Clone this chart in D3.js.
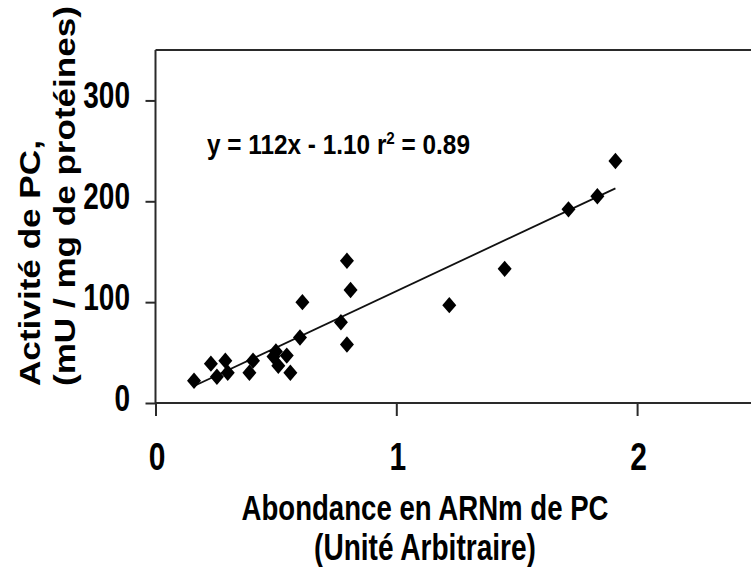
<!DOCTYPE html>
<html><head><meta charset="utf-8">
<script src="https://cdn.jsdelivr.net/npm/d3@7"></script>
<style>
html,body{margin:0;padding:0;background:#fff;}
svg{display:block;}
text{font-family:"Liberation Sans",Arial,sans-serif;fill:#000;}
</style></head>
<body>
<svg id="chart" width="751" height="567"></svg>
<script>
// Data
const abundance = [0.16,0.23,0.255,0.29,0.30,0.39,0.405,0.49,0.50,0.51,0.545,0.56,0.60,0.61,0.77,0.795,0.795,0.81,1.22,1.45,1.715,1.835,1.91];
const activity  = [22,39,26,42,30,30,42,46,51,37,47,30,65,100,80,58,141,112,97,133,192,205,240];
const fitSlope = 112, fitIntercept = -1.10, fitR2 = 0.89;
const fitRange = [0.16, 1.91];
const xTicks = [0,1,2];
const yTicks = [0,100,200,300];
const xTitle = ["Abondance en ARNm de PC","(Unité Arbitraire)"];
const yTitle = ["Activité de PC,","(mU / mg de protéines)"];

const svg = d3.select("#chart");
const x = d3.scaleLinear().domain([0,2.5]).range([155.5,757.5]);
const y = d3.scaleLinear().domain([0,350]).range([403,50]);
const axisColor = "#2a2a2a";
const CAP = 0.716;

// place a text with target width along baseline and target cap height
function fitText(g, str, o){
  const t = g.append("text").attr("x",0).attr("y",0)
    .attr("text-anchor",o.anchor||"start")
    .style("font-size",o.size+"px")
    .style("font-weight",o.weight||"bold")
    .text(str);
  if(o.stroke) t.attr("stroke","#000").attr("stroke-width",o.stroke);
  let sx = o.sx||1, sy = 1;
  if(o.width){ const w = t.node().getComputedTextLength(); if(w>0) sx = o.width/w; }
  if(o.cap){ sy = o.cap/(CAP*o.size); }
  t.attr("transform",`translate(${o.x},${o.y}) rotate(${o.rotate||0}) scale(${sx},${sy})`);
  return t;
}

// frame: top line, left axis, bottom axis
svg.append("line").attr("x1",x(0)).attr("x2",760).attr("y1",y(350)).attr("y2",y(350))
  .attr("stroke",axisColor).attr("stroke-width",2.2);
const yAxis = d3.axisLeft(y).tickValues(yTicks).tickSize(10).tickFormat("");
const xAxis = d3.axisBottom(x).tickValues(xTicks).tickSize(13).tickFormat("");
const gy = svg.append("g").attr("transform",`translate(${x(0)},0)`).call(yAxis);
const gx = svg.append("g").attr("transform",`translate(0,${y(0)})`).call(xAxis);
[gx,gy].forEach(g=>{
  g.select(".domain").attr("stroke",axisColor).attr("stroke-width",2);
  g.selectAll(".tick line").attr("stroke",axisColor).attr("stroke-width",2);
});
gx.select(".domain").attr("d",`M${x(0)},0H760`);
gy.select(".domain").attr("d",`M0,${y(350)}V${y(0)}`);

// tick labels
yTicks.forEach(v=>{
  fitText(svg, d3.format("d")(v), {x:130, y:y(v)+8, size:28, anchor:"end", cap:27});
});
xTicks.forEach(v=>{
  fitText(svg, d3.format("d")(v), {x:x(v)+1.5, y:470, size:30, anchor:"middle", cap:28});
});

// regression line
const line = d3.line().x(d=>x(d)).y(d=>y(fitSlope*d+fitIntercept));
svg.append("path").datum(fitRange).attr("d",line).attr("fill","none")
  .attr("stroke","#111").attr("stroke-width",1.8);

// diamonds
const diamond = { draw(ctx){ const w=7, h=8.2; ctx.moveTo(0,-h); ctx.lineTo(w,0); ctx.lineTo(0,h); ctx.lineTo(-w,0); ctx.closePath(); } };
svg.append("g").selectAll("path").data(abundance.map((a,i)=>[a,activity[i]])).join("path")
  .attr("d",d3.symbol().type(diamond).size(1))
  .attr("transform",d=>`translate(${x(d[0])},${y(d[1])})`)
  .attr("fill","#000");

// equation
const eqSize = 24;
const eq = svg.append("text").attr("x",0).attr("y",0).style("font-size",eqSize+"px")
  .style("font-weight","bold");
eq.append("tspan").text(`y = ${fitSlope}x - ${Math.abs(fitIntercept).toFixed(2)} r`);
eq.append("tspan").attr("dy",-9).style("font-size","15px").text("2");
eq.append("tspan").attr("dy",9).text(` = ${fitR2}`);
{ const w = eq.node().getBBox().width; eq.attr("transform",`translate(207,154) scale(${263/w},${19.5/(CAP*eqSize)})`); }

// axis titles
fitText(svg, xTitle[0], {x:425, y:520, size:28, anchor:"middle", width:367, cap:25});
fitText(svg, xTitle[1], {x:425, y:560, size:28, anchor:"middle", width:222, cap:26});
fitText(svg, yTitle[0], {x:40, y:386, size:29, rotate:-90, width:246});
fitText(svg, yTitle[1], {x:75, y:386, size:29, rotate:-90, width:380});
</script>
</body></html>
